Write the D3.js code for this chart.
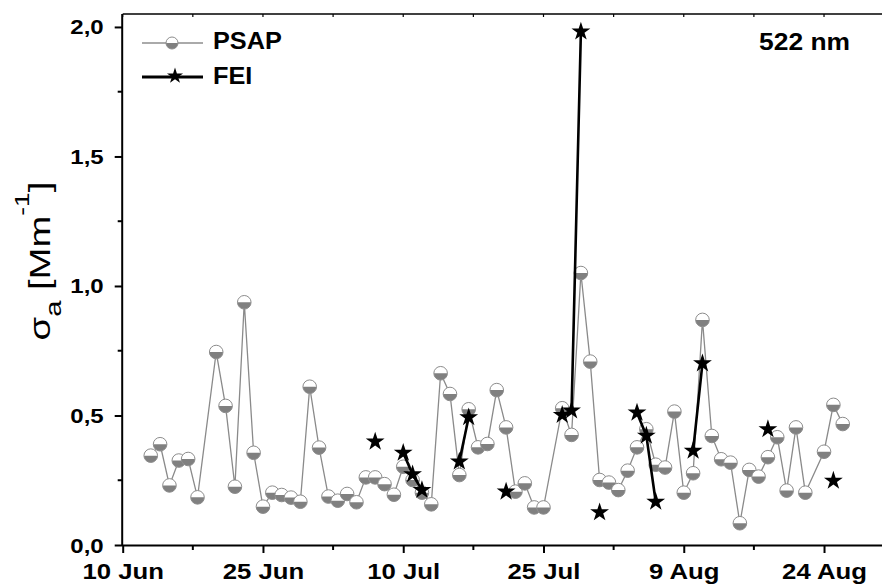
<!DOCTYPE html>
<html>
<head>
<meta charset="utf-8">
<script src="https://cdn.jsdelivr.net/npm/d3@7"></script>
<style>
  body { margin: 0; background: #fff; }
  svg { display: block; }
  text { font-family: Arial, "Liberation Sans", sans-serif; }
</style>
</head>
<body>
<svg id="chart" width="882" height="584"></svg>
<script>
// Daily absorption coefficient at 522 nm, sigma_a in Mm^-1
const psapDates = [
  "13 Jun","14 Jun","15 Jun","16 Jun","17 Jun","18 Jun","20 Jun","21 Jun","22 Jun","23 Jun",
  "24 Jun","25 Jun","26 Jun","27 Jun","28 Jun","29 Jun","30 Jun","1 Jul","2 Jul","3 Jul",
  "4 Jul","5 Jul","6 Jul","7 Jul","8 Jul","9 Jul","10 Jul","11 Jul","12 Jul","13 Jul",
  "14 Jul","15 Jul","16 Jul","17 Jul","18 Jul","19 Jul","20 Jul","21 Jul","22 Jul","23 Jul",
  "24 Jul","25 Jul","27 Jul","28 Jul","29 Jul","30 Jul","31 Jul","1 Aug","2 Aug","3 Aug",
  "4 Aug","5 Aug","6 Aug","7 Aug","8 Aug","9 Aug","10 Aug","11 Aug","12 Aug","13 Aug",
  "14 Aug","15 Aug","16 Aug","17 Aug","18 Aug","19 Aug","20 Aug","21 Aug","22 Aug","24 Aug",
  "25 Aug","26 Aug"
];
const psapValues = [
  0.345, 0.389, 0.230, 0.326, 0.332, 0.184, 0.745, 0.537, 0.225, 0.937,
  0.356, 0.148, 0.202, 0.193, 0.183, 0.167, 0.611, 0.376, 0.187, 0.171,
  0.197, 0.165, 0.261, 0.261, 0.235, 0.194, 0.302, 0.251, 0.202, 0.157,
  0.663, 0.583, 0.270, 0.524, 0.377, 0.390, 0.598, 0.454, 0.206, 0.238,
  0.145, 0.145, 0.528, 0.425, 1.050, 0.708, 0.251, 0.241, 0.212, 0.287,
  0.377, 0.447, 0.310, 0.299, 0.515, 0.202, 0.277, 0.869, 0.421, 0.331,
  0.318, 0.084, 0.290, 0.264, 0.339, 0.416, 0.210, 0.454, 0.202, 0.360,
  0.541, 0.467
];
const feiDates = [
  "7 Jul","10 Jul","11 Jul","12 Jul","16 Jul","17 Jul","21 Jul","27 Jul","28 Jul","29 Jul",
  "31 Jul","4 Aug","5 Aug","6 Aug","10 Aug","11 Aug","18 Aug","25 Aug"
];
const feiValues = [
  0.399, 0.356, 0.273, 0.212, 0.322, 0.493, 0.206, 0.502, 0.519, 1.982,
  0.126, 0.511, 0.422, 0.167, 0.364, 0.701, 0.447, 0.248
];
const xTickLabels = ["10 Jun","25 Jun","10 Jul","25 Jul","9 Aug","24 Aug"];
const yTickValues = [0, 0.5, 1.0, 1.5, 2.0];
const yTickLabels = ["0,0","0,5","1,0","1,5","2,0"];
const seriesNames = ["PSAP","FEI"];
const wavelengthLabel = "522 nm";

const parseDay = d3.timeParse("%d %b");
const DAY = 864e5;

const svg = d3.select("#chart");
const plotLeft = 122.7, plotBottom = 545, plotTop = 14, pxPerDay = 9.351;
const x0 = parseDay("10 Jun");
const x1 = new Date(+x0 + 83 * DAY);
const x = d3.scaleTime().domain([x0, x1]).range([plotLeft, plotLeft + 83 * pxPerDay]);
const y = d3.scaleLinear().domain([0, 2.05]).range([plotBottom, plotTop]);

const psap = psapDates.map((d, i) => ({ date: parseDay(d), value: psapValues[i] }));
const fei = feiDates.map((d, i) => ({ date: parseDay(d), value: feiValues[i] }));

const majorDates = xTickLabels.map(parseDay);
const minorDates = majorDates.map(d => new Date(+d + 7.5 * DAY));
const yMinor = yTickValues.slice(0, -1).map(v => v + 0.25);

// widen the bold labels a little around their anchor point
function stretch(sx) {
  return sel => sel.each(function () {
    const t = d3.select(this);
    const tx = +t.attr("x") || 0, ty = +t.attr("y") || 0;
    t.attr("x", 0).attr("y", 0)
     .attr("transform", `translate(${tx},${ty}) scale(${sx},1)`);
  });
}

// Top frame line with small inward ticks
svg.append("line").attr("x1", plotLeft).attr("x2", 882).attr("y1", plotTop).attr("y2", plotTop)
  .attr("stroke", "#000").attr("stroke-width", 1.5);
svg.append("g").selectAll("line").data(majorDates.concat(minorDates)).join("line")
  .attr("x1", d => x(d)).attr("x2", d => x(d)).attr("y1", plotTop).attr("y2", plotTop + 3)
  .attr("stroke", "#000").attr("stroke-width", 1.2);

// Bottom axis
const xAxis = d3.axisBottom(x).tickValues(majorDates)
  .tickFormat((d, i) => xTickLabels[i]).tickSize(8).tickSizeOuter(0);
const gx = svg.append("g").attr("transform", `translate(0,${plotBottom})`).call(xAxis);
gx.select(".domain").attr("d", `M${plotLeft},0.5H882`).attr("stroke-width", 2);
gx.selectAll(".tick line").attr("stroke-width", 2);
gx.selectAll(".tick text").attr("y", 34).attr("dy", null)
  .attr("font-size", 22).attr("font-weight", "bold").attr("fill", "#000")
  .attr("font-family", "Arial, 'Liberation Sans', sans-serif").call(stretch(1.17));
gx.append("g").selectAll("line").data(minorDates).join("line")
  .attr("x1", d => x(d)).attr("x2", d => x(d)).attr("y1", 0).attr("y2", 5)
  .attr("stroke", "#000").attr("stroke-width", 2);

// Left axis
const yAxis = d3.axisLeft(y).tickValues(yTickValues)
  .tickFormat((d, i) => yTickLabels[i]).tickSize(8).tickSizeOuter(0);
const gy = svg.append("g").attr("transform", `translate(${plotLeft},0)`).call(yAxis);
gy.select(".domain").attr("d", `M-0.5,${plotBottom + 1}V${plotTop}`).attr("stroke-width", 2);
gy.selectAll(".tick line").attr("stroke-width", 2);
gy.selectAll(".tick text").attr("x", -19).attr("y", 7).attr("dy", null)
  .attr("font-size", 20).attr("font-weight", "bold").attr("fill", "#000")
  .attr("font-family", "Arial, 'Liberation Sans', sans-serif").call(stretch(1.2));
gy.append("g").selectAll("line").data(yMinor).join("line")
  .attr("x1", -5).attr("x2", 0).attr("y1", d => y(d)).attr("y2", d => y(d))
  .attr("stroke", "#000").attr("stroke-width", 2);

// Axis title: sigma_a [Mm^-1]
const title = svg.append("text")
  .attr("transform", `translate(50,261) rotate(-90) scale(1.32,1)`)
  .attr("text-anchor", "middle").attr("font-size", 29).attr("fill", "#000");
title.append("tspan").text("σ");
title.append("tspan").attr("font-size", 22).attr("dy", 11).text("a");
title.append("tspan").attr("dy", -11).text(" [Mm");
title.append("tspan").attr("font-size", 20).attr("dy", -21).text("-1");
title.append("tspan").attr("dy", 21).text("]");

// Marker helpers
const R = 6.8;
function halfCircle(g, r) {
  g.append("circle").attr("r", r).attr("fill", "#fff");
  g.append("path").attr("d", `M${-r},0A${r},${r} 0 0 0 ${r},0Z`).attr("fill", "#808080");
  g.append("circle").attr("r", r).attr("fill", "none").attr("stroke", "#8c8c8c").attr("stroke-width", 1);
}
const star = d3.symbol(d3.symbolStar, 110);

// PSAP series
svg.append("path").datum(psap)
  .attr("fill", "none").attr("stroke", "#8a8a8a").attr("stroke-width", 1.3)
  .attr("d", d3.line().x(d => x(d.date)).y(d => y(d.value)));
svg.append("g").selectAll("g").data(psap).join("g")
  .attr("transform", d => `translate(${x(d.date)},${y(d.value)})`)
  .each(function () { halfCircle(d3.select(this), R); });

// FEI series: consecutive days are joined
const feiLine = d3.line().x(d => x(d.date)).y(d => y(d.value))
  .defined(d => d !== null);
const feiGapped = [];
fei.forEach((d, i) => {
  if (i > 0 && Math.round((d.date - fei[i - 1].date) / DAY) > 1) feiGapped.push(null);
  feiGapped.push(d);
});
svg.append("path").datum(feiGapped)
  .attr("fill", "none").attr("stroke", "#000").attr("stroke-width", 2.6)
  .attr("d", feiLine);
svg.append("g").selectAll("path").data(fei).join("path")
  .attr("transform", d => `translate(${x(d.date)},${y(d.value)})`)
  .attr("d", star).attr("fill", "#000");

// Legend
const lg = svg.append("g");
lg.append("line").attr("x1", 142).attr("x2", 203).attr("y1", 43).attr("y2", 43)
  .attr("stroke", "#aaa").attr("stroke-width", 2);
halfCircle(lg.append("g").attr("transform", "translate(172,43)"), 6);
lg.append("line").attr("x1", 142).attr("x2", 203).attr("y1", 77).attr("y2", 77)
  .attr("stroke", "#000").attr("stroke-width", 3);
lg.append("path").attr("transform", "translate(175,76)")
  .attr("d", d3.symbol(d3.symbolStar, 80)).attr("fill", "#000");
lg.selectAll("text.leg").data(seriesNames).join("text").attr("class", "leg")
  .attr("x", 213).attr("y", (d, i) => 49 + i * 35)
  .attr("font-size", 23).attr("font-weight", "bold").text(d => d).call(stretch(1.1));

svg.append("text").attr("x", 850).attr("y", 50).attr("text-anchor", "end")
  .attr("font-size", 24).attr("font-weight", "bold").text(wavelengthLabel).call(stretch(1.1));
</script>
</body>
</html>
